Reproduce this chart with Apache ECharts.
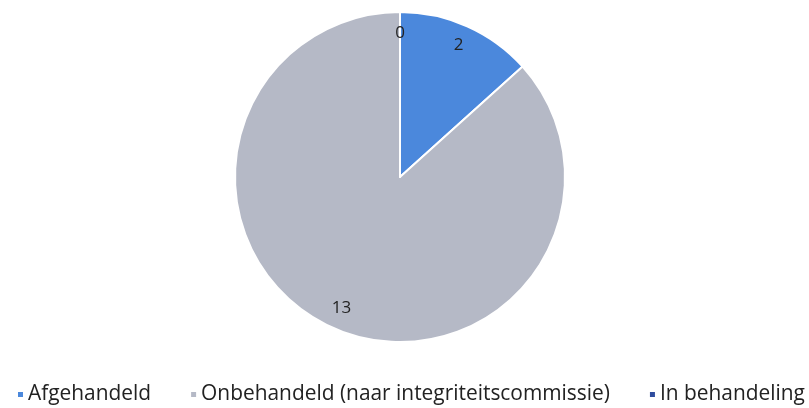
<!DOCTYPE html>
<html><head><meta charset="utf-8">
<script src="https://cdn.jsdelivr.net/npm/echarts@6/dist/echarts.min.js"></script>
<style>html,body{margin:0;padding:0;background:#fff}#c{width:809px;height:408px}</style>
</head><body><div id="c"></div>
<script>
const categories = ['Afgehandeld', 'Onbehandeld (naar integriteitscommissie)', 'In behandeling'];
const values = [2, 13, 0];
const colors = ['#4b88dc', '#b5b9c6', '#2f4c9e'];

const data = categories.map((c, i) => ({ name: c, value: values[i], itemStyle: { color: colors[i] } }));
const chart = echarts.init(document.getElementById('c'));
chart.setOption({
  animation: false,
  legend: {
    top: 384, left: 16, padding: 0, itemWidth: 7, itemHeight: 7, itemGap: 38, icon: 'rect',
    textStyle: { fontFamily: 'Open Sans', fontSize: 20.9, color: '#222', padding: [0, 0, 0, -1] }
  },
  series: [{
    type: 'pie', center: [400, 177], radius: [0, 165], startAngle: 90, clockwise: true,
    label: { show: false }, labelLine: { show: false },
    itemStyle: { borderColor: '#fff', borderWidth: 2 },
    data: data
  }, {
    type: 'pie', center: [400, 177], radius: [117, 165], startAngle: 90, clockwise: true, silent: true,
    itemStyle: { color: 'transparent', borderWidth: 0 },
    label: { show: true, position: 'inside', formatter: '{c}', fontFamily: 'Open Sans', fontSize: 17, color: '#222' },
    labelLine: { show: false },
    data: categories.map((c, i) => ({ name: c, value: values[i] }))
  }]
});
</script></body></html>
